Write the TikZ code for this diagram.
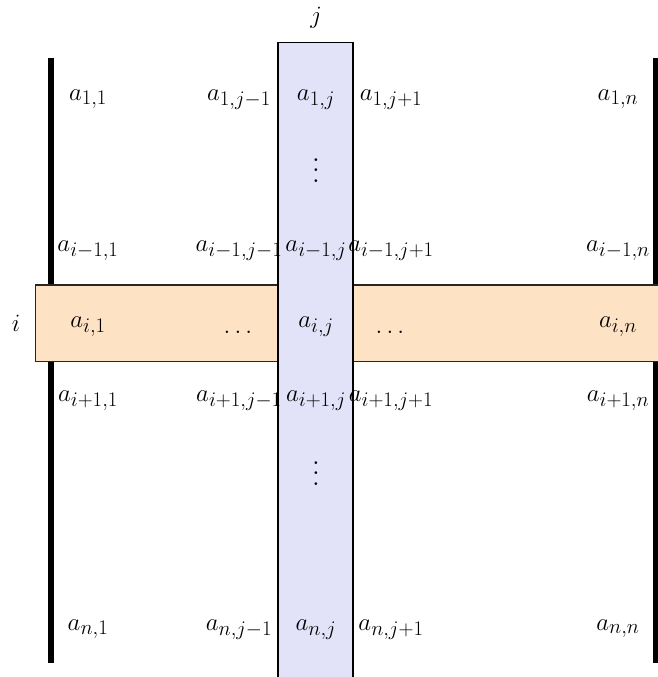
\documentclass[tikz,border=0pt]{standalone}
\definecolor{colbg}{RGB}{226,226,248}
\definecolor{rowbg}{RGB}{254,226,196}
\tikzset{
  ent/.style={inner sep=0pt, anchor=base, font=\fontsize{28}{32}\selectfont},
  lab/.style={inner sep=0pt, font=\fontsize{28}{32}\selectfont},
  vd/.style={inner sep=0pt, anchor=base},
  bar/.style={line width=6pt, line cap=butt},
  colbox/.style={fill=colbg, draw=black, line width=1.6pt},
  rowbox/.style={fill=rowbg, draw=black!85, line width=1.1pt}
}
\begin{document}
\begin{tikzpicture}[x=1pt,y=-1pt]
\useasboundingbox (0,0) rectangle (658,677);
\clip (0,0) rectangle (658,677);
% delimiters
\draw[bar] (50.5,58) -- (50.5,663);
\draw[bar] (655.5,58) -- (655.5,663);
% highlighted row and column
\draw[rowbox] (35.5,285) rectangle (680,361.5);
\draw[colbox] (278,42.5) rectangle (353,700);
% labels
\node[lab] (lj) at (316,17.5) {$j$};
\node[lab, anchor=base] (li) at (16,331) {$i$};
% row 1
\node[ent] (a11) at (88,100) {$a_{1,1}$};
\node[ent] (a1jm) at (239,100) {$a_{1,j-1}$};
\node[ent] (a1j) at (316,100) {$a_{1,j}$};
\node[ent] (a1jp) at (391,100) {$a_{1,j+1}$};
\node[ent] (a1n) at (618,100) {$a_{1,n}$};
\node[vd] (vd1) at (316,182) {\scalebox{2.6}{$\vdots$}};
% row i-1
\node[ent] (aim1) at (88,251) {$a_{i-1,1}$};
\node[ent] (aimjm) at (239,251) {$a_{i-1,j-1}$};
\node[ent] (aimj) at (316,251) {$a_{i-1,j}$};
\node[ent] (aimjp) at (391,251) {$a_{i-1,j+1}$};
\node[ent] (aimn) at (618,251) {$a_{i-1,n}$};
% row i
\node[ent] (ai1) at (88,327) {$a_{i,1}$};
\node[ent] (hd1) at (238,333) {$\dots$};
\node[ent] (aij) at (316,327) {$a_{i,j}$};
\node[ent] (hd2) at (390,333) {$\dots$};
\node[ent] (ain) at (618,327) {$a_{i,n}$};
% row i+1
\node[ent] (aip1) at (88,401) {$a_{i+1,1}$};
\node[ent] (aipjm) at (239,401) {$a_{i+1,j-1}$};
\node[ent] (aipj) at (316,401) {$a_{i+1,j}$};
\node[ent] (aipjp) at (391,401) {$a_{i+1,j+1}$};
\node[ent] (aipn) at (618,401) {$a_{i+1,n}$};
\node[vd] (vd2) at (316,485) {\scalebox{2.6}{$\vdots$}};
% row n
\node[ent] (an1) at (88,630) {$a_{n,1}$};
\node[ent] (anjm) at (239,630) {$a_{n,j-1}$};
\node[ent] (anj) at (316,630) {$a_{n,j}$};
\node[ent] (anjp) at (391,630) {$a_{n,j+1}$};
\node[ent] (ann) at (618,630) {$a_{n,n}$};
\end{tikzpicture}
\end{document}
